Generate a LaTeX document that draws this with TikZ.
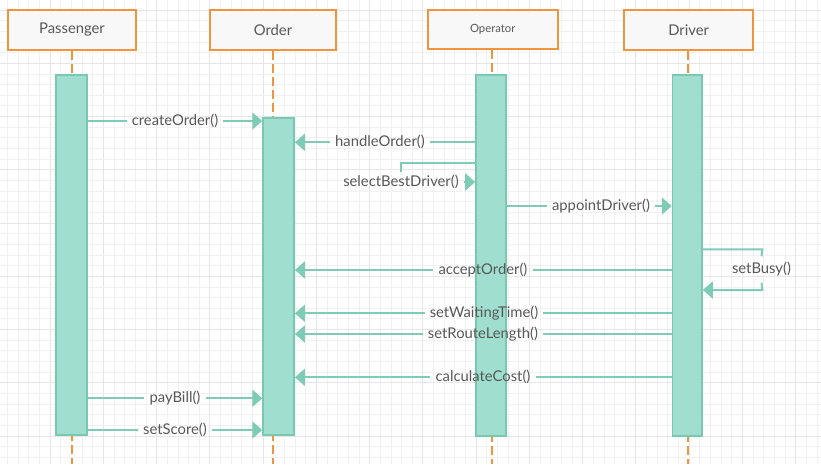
\documentclass[tikz,border=0pt]{standalone}
\usepackage{fontspec}
\setmainfont{Lato}
\usetikzlibrary{arrows.meta}
\definecolor{orangeC}{RGB}{240,148,62}
\definecolor{headFill}{RGB}{248,248,248}
\definecolor{barFill}{RGB}{160,223,208}
\definecolor{barDraw}{RGB}{122,199,178}
\definecolor{msgC}{RGB}{126,203,182}
\definecolor{txtC}{RGB}{88,88,88}
\definecolor{gridMinor}{RGB}{241,241,241}
\definecolor{gridMajor}{RGB}{230,230,230}
\tikzset{
  header/.style={draw=orangeC, line width=2pt, fill=headFill, text=txtC, font=\fontsize{14.8}{16}\selectfont, minimum height=40pt, inner sep=0pt},
  bar/.style={draw=barDraw, line width=1.6pt, fill=barFill, minimum width=31pt, anchor=north, inner sep=0pt},
  life/.style={draw=orangeC, line width=2pt, dash pattern=on 9pt off 4pt},
  msg/.style={draw=msgC, line width=2pt},
  msgarrow/.style={msg, -{Triangle[length=10pt, width=17pt]}},
  lbl/.style={text=txtC, font=\fontsize{14.8}{16}\selectfont, inner xsep=5pt, inner ysep=3pt}
}
\begin{document}
\begin{tikzpicture}[x=1pt, y=-1pt]
\useasboundingbox (0,0) rectangle (821,464);
\fill[white] (0,0) rectangle (821,464);
% grid
\foreach \i in {0,...,77} {
  \pgfmathsetmacro{\gx}{7.45+\i*10.65}
  \pgfmathtruncatemacro{\mj}{mod(\i,5)==4 ? 1 : 0}
  \ifnum\mj=1
    \draw[gridMajor, line width=0.8pt] (\gx,0) -- (\gx,464);
  \else
    \draw[gridMinor, line width=0.7pt] (\gx,0) -- (\gx,464);
  \fi
}
\foreach \j in {0,...,43} {
  \pgfmathsetmacro{\gy}{9.95+\j*10.65}
  \pgfmathtruncatemacro{\mj}{mod(\j,5)==0 ? 1 : 0}
  \ifnum\mj=1
    \draw[gridMajor, line width=0.8pt] (0,\gy) -- (821,\gy);
  \else
    \draw[gridMinor, line width=0.7pt] (0,\gy) -- (821,\gy);
  \fi
}
% headers
\node[header, minimum width=128pt] (hP) at (72,30) {Passenger};
\node[header, minimum width=126pt] (hO) at (273,30) {Order};
\node[header, minimum width=130pt, minimum height=39pt, font=\fontsize{11.3}{13}\selectfont] (hOp) at (492.7,29.5) {Operator};
\node[header, minimum width=128.5pt] (hD) at (688.7,30) {Driver};
% lifeline coordinates
\coordinate (tP) at (71.7,74);
\coordinate (tO) at (273,117);
\coordinate (tOp) at (492,74);
\coordinate (tD) at (687.7,74);
\coordinate (eP) at (71.7,464);
\coordinate (eO) at (273,464);
\coordinate (eOp) at (492,464);
\coordinate (eD) at (687.7,464);
\draw[life] (hP.south -| tP) -- (tP);
\draw[life] (hO.south -| tO) -- (tO);
\draw[life] (hOp.south -| tOp) -- (tOp);
\draw[life] (hD.south -| tD) -- (tD);
% bars
\node[bar, minimum height=360pt] (bP) at (71.5,74) {};
\node[bar, minimum height=317pt] (bO) at (278.6,117) {};
\node[bar, minimum height=361pt, minimum width=30pt] (bOp) at (491,74) {};
\node[bar, minimum height=361pt, minimum width=29.5pt] (bD) at (687.3,74) {};
\draw[life, dash phase=4pt] (bP.south -| eP) -- (eP);
\draw[life, dash phase=4pt] (bO.south -| eO) -- (eO);
\draw[life, dash phase=4pt] (bOp.south -| eOp) -- (eOp);
\draw[life, dash phase=4pt] (bD.south -| eD) -- (eD);
% messages
\node[lbl] (lCreate) at (175,121) {createOrder()};
\draw[msg] (bP.east |- lCreate.west) -- (lCreate.west);
\draw[msgarrow] (lCreate.east) -- (bO.west |- lCreate.east);

\node[lbl] (lHandle) at (380,142.3) {handleOrder()};
\draw[msg] (bOp.west |- lHandle.east) -- (lHandle.east);
\draw[msgarrow] (lHandle.west) -- (bO.east |- lHandle.west);

\node[lbl] (lSelect) at (401,182) {selectBestDriver()};
\coordinate (cSelect) at (401,163.3);
\draw[msg] (bOp.west |- cSelect) -- (cSelect) -- (lSelect.north);
\draw[msgarrow] (lSelect.east) -- (bOp.west |- lSelect.east);

\node[lbl] (lAppoint) at (601,206) {appointDriver()};
\draw[msg] (bOp.east |- lAppoint.west) -- (lAppoint.west);
\draw[msgarrow] (lAppoint.east) -- (bD.west |- lAppoint.east);

\node[lbl, inner ysep=6pt] (lBusy) at (761.5,269.5) {setBusy()};
\coordinate (cBusyA) at (762.3,249.3);
\coordinate (cBusyB) at (762.3,290);
\draw[msg] (bD.east |- cBusyA) -- (cBusyA) -- (lBusy.north);
\draw[msgarrow] (lBusy.south) -- (cBusyB) -- (bD.east |- cBusyB);

\node[lbl] (lAccept) at (483,270) {acceptOrder()};
\draw[msg] (bD.west |- lAccept.east) -- (lAccept.east);
\draw[msgarrow] (lAccept.west) -- (bO.east |- lAccept.west);

\node[lbl] (lWait) at (484,313.3) {setWaitingTime()};
\draw[msg] (bD.west |- lWait.east) -- (lWait.east);
\draw[msgarrow] (lWait.west) -- (bO.east |- lWait.west);

\node[lbl] (lRoute) at (483,334) {setRouteLength()};
\draw[msg] (bD.west |- lRoute.east) -- (lRoute.east);
\draw[msgarrow] (lRoute.west) -- (bO.east |- lRoute.west);

\node[lbl] (lCost) at (483,377.3) {calculateCost()};
\draw[msg] (bD.west |- lCost.east) -- (lCost.east);
\draw[msgarrow] (lCost.west) -- (bO.east |- lCost.west);

\node[lbl] (lPay) at (175,398.3) {payBill()};
\draw[msg] (bP.east |- lPay.west) -- (lPay.west);
\draw[msgarrow] (lPay.east) -- (bO.west |- lPay.east);

\node[lbl] (lScore) at (175,430) {setScore()};
\draw[msg] (bP.east |- lScore.west) -- (lScore.west);
\draw[msgarrow] (lScore.east) -- (bO.west |- lScore.east);
\end{tikzpicture}
\end{document}
